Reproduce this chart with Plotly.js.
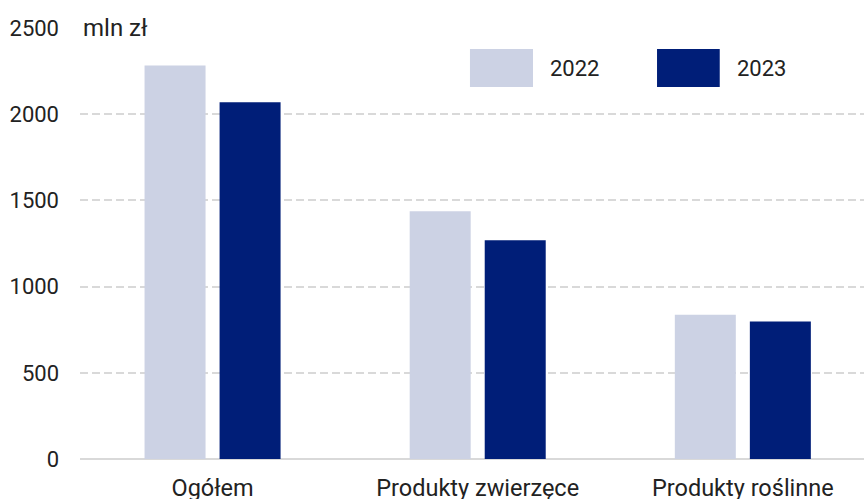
<!DOCTYPE html>
<html>
<head>
<meta charset="utf-8">
<script src="https://cdn.plot.ly/plotly-3.0.1.min.js"></script>
<style>html,body{margin:0;padding:0;background:#fff}#chart{width:864px;height:499px}</style>
</head>
<body>
<div id="chart"></div>
<script>
const categories = ["Ogółem", "Produkty zwierzęce", "Produkty roślinne"];
const seriesNames = ["2022", "2023"];
const values2022 = [2283, 1437, 836];
const values2023 = [2070, 1269, 797];
const yTicks = [0, 500, 1000, 1500, 2000, 2500];
const unitLabel = "mln zł";
const colors = ["#ccd2e4", "#001e78"];

const FONT = "Roboto, 'Noto Sans', sans-serif";
const traces = [values2022, values2023].map((v, i) => ({
  type: "bar",
  x: categories,
  y: v,
  name: seriesNames[i],
  marker: {color: colors[i]},
  hoverinfo: "x+y+name"
}));

const shapes = [];
const annotations = [];
const legendPos = [{x0: 0.4974, x1: 0.5778, tx: 0.5975}, {x0: 0.736, x1: 0.816, tx: 0.836}];
seriesNames.forEach((n, i) => {
  shapes.push({type: "rect", xref: "paper", yref: "paper", x0: legendPos[i].x0, x1: legendPos[i].x1,
    y0: 0.863, y1: 0.951, fillcolor: colors[i], line: {width: 0}});
  annotations.push({xref: "paper", yref: "paper", x: legendPos[i].tx, y: 0.907, xanchor: "left", yanchor: "middle",
    text: n, showarrow: false, font: {family: FONT, size: 22, color: "#222"}});
});
annotations.push({xref: "paper", yref: "y", x: 0, y: 2500, xanchor: "left", yanchor: "middle", text: unitLabel,
  showarrow: false, bgcolor: "#fff", width: 100, align: "left", borderpad: 2,
  font: {family: FONT, size: 24, color: "#222"}});

const layout = {
  width: 864, height: 499,
  margin: {l: 80, r: 0, t: 28, b: 40},
  paper_bgcolor: "#fff", plot_bgcolor: "#fff",
  showlegend: false,
  barmode: "group",
  bargap: 0.434,
  bargroupgap: 0.187,
  font: {family: FONT, size: 22, color: "#222"},
  xaxis: {
    type: "category", range: [-0.5, 2.457], showgrid: false, zeroline: false, showline: false,
    ticks: "", ticklabelstandoff: 12, tickfont: {family: FONT, size: 23.5, color: "#222"}, fixedrange: true
  },
  yaxis: {
    range: [0, 2500], tickvals: yTicks, ticktext: yTicks.map(String), showgrid: true,
    gridcolor: "#d9d9d9", gridwidth: 2, griddash: "8px,4px",
    zeroline: true, zerolinecolor: "#d9d9d9", zerolinewidth: 2, showline: false,
    ticks: "", ticklabelstandoff: 20, tickfont: {family: FONT, size: 22, color: "#222"}, fixedrange: true
  },
  shapes: shapes,
  annotations: annotations
};
Plotly.newPlot("chart", traces, layout, {displayModeBar: false, staticPlot: true});
</script>
</body>
</html>
